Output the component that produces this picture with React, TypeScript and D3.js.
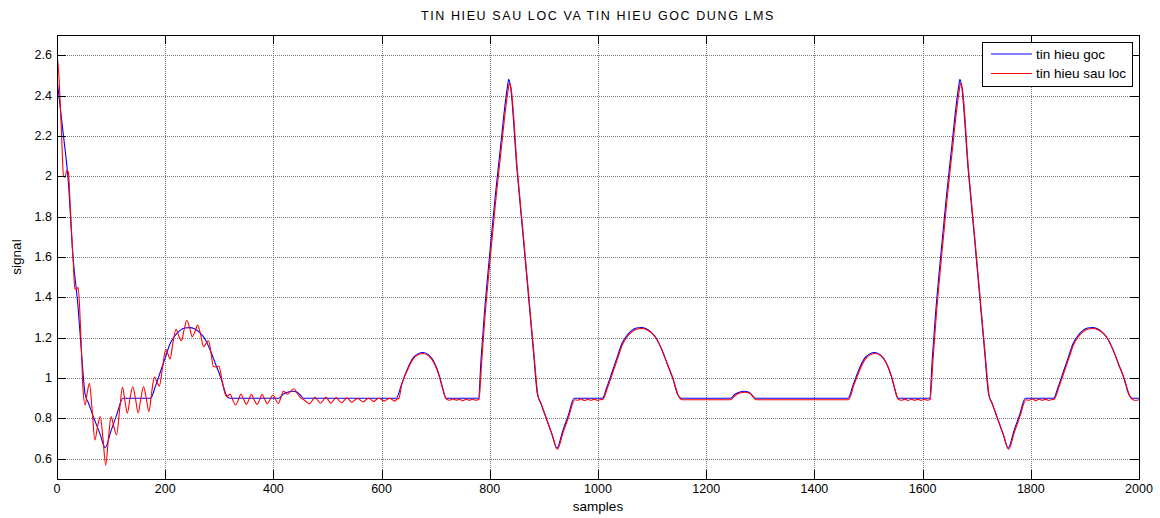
import React, { useRef, useEffect } from 'react';
import * as d3 from 'd3';

// original signal (tin hieu goc): [sample, value]
const originalSignal: [number, number][] = [
  [0, 2.48], [12, 2.2], [21, 1.97], [29, 1.62], [39, 1.35], [46, 1.1], [52, 0.92], [58, 0.878], [67, 0.81], [80, 0.72], [89, 0.655], [100, 0.74], [110, 0.815], [122, 0.9],
  [173, 0.9], [182, 0.96], [191, 1.03], [200, 1.1], [209, 1.17], [218, 1.21], [227, 1.235], [236, 1.248], [245, 1.25], [254, 1.245], [263, 1.228], [272, 1.2], [283, 1.14], [293, 1.07], [303, 1.0], [313, 0.915], [319, 0.9],
  [410, 0.9], [418, 0.92], [426, 0.93], [435, 0.935], [444, 0.93], [450, 0.915], [456, 0.9],
  [627, 0.9], [637, 0.97], [647, 1.04], [657, 1.095], [667, 1.12], [677, 1.127], [687, 1.115], [697, 1.08], [707, 1.01], [713, 0.95], [719, 0.9],
  [779, 0.9], [784, 1.1], [790, 1.32], [800, 1.62], [810, 1.9], [820, 2.15], [828, 2.35], [833, 2.45], [835, 2.48], [838, 2.45], [850, 2.04], [862, 1.69], [873, 1.36], [881, 1.12], [888, 0.92], [894, 0.878], [903, 0.81], [915, 0.72], [924, 0.652], [935, 0.74], [945, 0.815], [956, 0.9],
  [1008, 0.9], [1017, 0.96], [1026, 1.03], [1035, 1.1], [1044, 1.17], [1053, 1.21], [1062, 1.235], [1071, 1.248], [1080, 1.25], [1089, 1.245], [1098, 1.228], [1107, 1.2], [1118, 1.14], [1128, 1.07], [1138, 1.0], [1148, 0.915], [1154, 0.9],
  [1245, 0.9], [1253, 0.92], [1261, 0.93], [1270, 0.935], [1279, 0.93], [1285, 0.915], [1291, 0.9],
  [1462, 0.9], [1472, 0.97], [1482, 1.04], [1492, 1.095], [1502, 1.12], [1512, 1.127], [1522, 1.115], [1532, 1.08], [1542, 1.01], [1548, 0.95], [1554, 0.9],
  [1613, 0.9], [1618, 1.1], [1624, 1.32], [1634, 1.62], [1644, 1.9], [1654, 2.15], [1662, 2.35], [1667, 2.45], [1669, 2.48], [1672, 2.45], [1684, 2.04], [1696, 1.69], [1707, 1.36], [1715, 1.12], [1722, 0.92], [1728, 0.878], [1737, 0.81], [1749, 0.72], [1758, 0.652], [1769, 0.74], [1779, 0.815], [1790, 0.9],
  [1842, 0.9], [1851, 0.96], [1860, 1.03], [1869, 1.1], [1878, 1.17], [1887, 1.21], [1896, 1.235], [1905, 1.248], [1914, 1.25], [1923, 1.245], [1932, 1.228], [1941, 1.2], [1952, 1.14], [1962, 1.07], [1972, 1.0], [1982, 0.915], [1988, 0.9], [2000, 0.9],
];

// filtered signal (tin hieu sau loc)
const filteredSignal: [number, number][] = [
  [0, 2.6], [3, 2.52], [6, 2.36], [9, 2.17], [12, 2.0], [15, 1.995], [18, 2.03], [21, 2.02], [24, 1.88], [27, 1.72], [30, 1.58], [33, 1.44], [36, 1.44], [39, 1.45], [42, 1.34], [45, 1.15], [48, 0.95], [52, 0.867],
  [56, 0.93], [60, 0.974], [65, 0.84], [70, 0.693], [75, 0.76], [80, 0.809], [85, 0.7], [90, 0.569], [95, 0.7], [100, 0.809], [105, 0.76], [110, 0.718], [116, 0.85], [121, 0.954],
  [126, 0.88], [130, 0.826], [135, 0.9], [140, 0.957], [145, 0.9], [150, 0.826], [155, 0.9], [160, 0.957], [165, 0.9], [170, 0.834], [175, 0.93], [180, 1.005], [185, 0.98], [189, 0.96],
  [195, 1.05], [201, 1.143], [205, 1.12], [209, 1.095], [214, 1.17], [220, 1.242], [225, 1.21], [230, 1.185], [235, 1.24], [240, 1.285], [245, 1.25], [250, 1.205], [255, 1.23], [260, 1.263],
  [265, 1.22], [271, 1.156], [275, 1.17], [280, 1.185], [285, 1.12], [289, 1.057], [294, 1.055], [299, 1.06], [305, 0.99], [310, 0.93], [314, 0.908], [317, 0.915], [320, 0.921],
  [325, 0.89], [330, 0.867], [335, 0.89], [340, 0.921], [345, 0.895], [350, 0.87], [355, 0.895], [359, 0.92], [364, 0.895], [370, 0.87], [375, 0.895], [379, 0.92], [384, 0.895],
  [389, 0.873], [394, 0.895], [399, 0.916], [404, 0.895], [409, 0.873], [414, 0.905], [418, 0.935], [422, 0.93], [426, 0.92], [432, 0.935], [438, 0.947], [444, 0.925], [450, 0.903],
  [455, 0.895], [460, 0.885], [467, 0.872], [472, 0.89], [477, 0.905], [482, 0.89], [487, 0.875], [492, 0.89], [497, 0.905], [502, 0.89], [506, 0.876], [511, 0.89], [516, 0.903],
  [521, 0.89], [526, 0.878], [531, 0.89], [536, 0.902], [541, 0.89], [545, 0.88], [550, 0.89], [556, 0.9], [561, 0.89], [566, 0.882], [571, 0.892], [576, 0.9], [581, 0.892],
  [585, 0.884], [590, 0.893], [595, 0.9], [600, 0.893], [605, 0.886], [610, 0.894], [615, 0.9], [620, 0.893], [624, 0.886], [628, 0.895],
  [632, 0.9], [637, 0.965], [647, 1.035], [657, 1.09], [667, 1.115], [677, 1.122], [687, 1.11], [697, 1.075], [707, 1.005], [713, 0.945], [720, 0.895], [726, 0.89], [732, 0.897],
  [738, 0.89], [744, 0.895], [750, 0.888], [756, 0.895], [762, 0.89], [768, 0.895], [774, 0.89], [780, 0.895],
  [785, 1.08], [791, 1.3], [801, 1.6], [811, 1.88], [821, 2.13], [829, 2.33], [834, 2.43], [836, 2.46], [839, 2.44], [851, 2.03], [863, 1.68], [874, 1.35], [882, 1.11], [889, 0.915],
  [895, 0.872], [904, 0.805], [916, 0.715], [925, 0.648], [936, 0.735], [946, 0.81], [957, 0.893], [963, 0.89], [969, 0.897], [975, 0.888], [981, 0.895], [987, 0.89], [993, 0.896],
  [999, 0.889], [1004, 0.893], [1009, 0.895],
  [1018, 0.955], [1027, 1.025], [1036, 1.095], [1045, 1.165], [1054, 1.205], [1063, 1.23], [1072, 1.243], [1081, 1.246], [1090, 1.24], [1099, 1.224], [1108, 1.195], [1119, 1.135],
  [1129, 1.065], [1139, 0.995], [1149, 0.91], [1155, 0.893], [1245, 0.893],
  [1254, 0.915], [1262, 0.926], [1271, 0.93], [1280, 0.925], [1286, 0.91], [1292, 0.893], [1463, 0.893],
  [1473, 0.965], [1483, 1.035], [1493, 1.09], [1503, 1.115], [1513, 1.122], [1523, 1.11], [1533, 1.075], [1543, 1.005], [1549, 0.945], [1555, 0.895], [1561, 0.89], [1567, 0.896],
  [1573, 0.889], [1579, 0.895], [1585, 0.89], [1591, 0.896], [1597, 0.889], [1603, 0.895], [1609, 0.89], [1614, 0.895],
  [1619, 1.08], [1625, 1.3], [1635, 1.6], [1645, 1.88], [1655, 2.13], [1663, 2.33], [1668, 2.43], [1670, 2.46], [1673, 2.44], [1685, 2.03], [1697, 1.68], [1708, 1.35], [1716, 1.11],
  [1723, 0.915], [1729, 0.872], [1738, 0.805], [1750, 0.715], [1759, 0.648], [1770, 0.735], [1780, 0.81], [1791, 0.893], [1797, 0.89], [1803, 0.897], [1809, 0.888], [1815, 0.895],
  [1821, 0.89], [1827, 0.896], [1833, 0.889], [1838, 0.893], [1843, 0.895],
  [1852, 0.955], [1861, 1.025], [1870, 1.095], [1879, 1.165], [1888, 1.205], [1897, 1.23], [1906, 1.243], [1915, 1.246], [1924, 1.24], [1933, 1.224], [1942, 1.195], [1953, 1.135],
  [1963, 1.065], [1973, 0.995], [1983, 0.91], [1989, 0.893], [1994, 0.89], [2000, 0.893],
];

const xTicks = [0, 200, 400, 600, 800, 1000, 1200, 1400, 1600, 1800, 2000];
const yTicks = [0.6, 0.8, 1, 1.2, 1.4, 1.6, 1.8, 2, 2.2, 2.4, 2.6];
const legendLabels = ['tin hieu goc', 'tin hieu sau loc'];
const seriesColors = ['#0000ff', '#ff0000'];

const FONT = 'Liberation Sans, Arial, Helvetica, sans-serif';

const App = () => {
  const ref = useRef<SVGSVGElement>(null);

  useEffect(() => {
    const svg = d3.select(ref.current);
    svg.selectAll('*').remove();

    const width = 1160;
    const height = 518;
    const margin = { top: 35, right: 21, bottom: 39, left: 57 };
    const x0 = margin.left, x1 = width - margin.right;
    const y0 = margin.top, y1 = height - margin.bottom;

    const x = d3.scaleLinear().domain([0, 2000]).range([x0, x1]);
    const y = d3.scaleLinear().domain([0.5, 2.7]).range([y1, y0]);

    svg.append('rect').attr('width', width).attr('height', height).attr('fill', '#fff');

    // grid
    const grid = svg.append('g').attr('stroke', '#7a7a7a').attr('stroke-width', 1).attr('stroke-dasharray', '1,1');
    grid.selectAll('.gx').data(xTicks.slice(1, -1)).join('line')
      .attr('x1', d => Math.round(x(d)) + 0.5).attr('x2', d => Math.round(x(d)) + 0.5).attr('y1', y0).attr('y2', y1);
    grid.selectAll('.gy').data(yTicks).join('line').attr('class', 'gy')
      .attr('y1', d => Math.round(y(d)) + 0.5).attr('y2', d => Math.round(y(d)) + 0.5).attr('x1', x0).attr('x2', x1);

    // lines
    const line = d3.line<[number, number]>().x(d => x(d[0])).y(d => y(d[1])).curve(d3.curveMonotoneX);
    const clip = svg.append('clipPath').attr('id', 'plotclip');
    clip.append('rect').attr('x', x0).attr('y', y0).attr('width', x1 - x0).attr('height', y1 - y0);
    const plot = svg.append('g').attr('clip-path', 'url(#plotclip)');
    [originalSignal, filteredSignal].forEach((s, i) => {
      plot.append('path').datum(s).attr('d', line).attr('fill', 'none')
        .attr('stroke', seriesColors[i]).attr('stroke-width', 1.1);
    });

    // frame and ticks
    const tickLen = 9;
    const ax = svg.append('g').attr('stroke', '#000').attr('stroke-width', 1);
    ax.append('rect').attr('x', x0 + 0.5).attr('y', y0 + 0.5).attr('width', x1 - x0).attr('height', y1 - y0).attr('fill', 'none');
    xTicks.forEach(t => {
      const px = Math.round(x(t)) + 0.5;
      ax.append('line').attr('x1', px).attr('x2', px).attr('y1', y1).attr('y2', y1 - tickLen);
      ax.append('line').attr('x1', px).attr('x2', px).attr('y1', y0).attr('y2', y0 + tickLen);
    });
    yTicks.forEach(t => {
      const py = Math.round(y(t)) + 0.5;
      ax.append('line').attr('y1', py).attr('y2', py).attr('x1', x0).attr('x2', x0 + tickLen);
      ax.append('line').attr('y1', py).attr('y2', py).attr('x1', x1).attr('x2', x1 - tickLen);
    });

    const text = svg.append('g').attr('font-family', FONT).attr('fill', '#000');
    text.selectAll('.xt').data(xTicks).join('text').attr('class', 'xt')
      .attr('x', d => x(d)).attr('y', y1 + 14).attr('text-anchor', 'middle').attr('font-size', 12.5)
      .text(d => String(d));
    text.selectAll('.yt').data(yTicks).join('text').attr('class', 'yt')
      .attr('x', x0 - 5).attr('y', d => y(d) + 4).attr('text-anchor', 'end').attr('font-size', 12.5)
      .text(d => String(+d.toFixed(1)));

    text.append('text').attr('x', (x0 + x1) / 2).attr('y', 20).attr('text-anchor', 'middle').attr('font-size', 12.5)
      .attr('letter-spacing', 1.6)
      .text('TIN HIEU SAU LOC VA TIN HIEU GOC DUNG LMS');
    text.append('text').attr('x', (x0 + x1) / 2).attr('y', 511).attr('text-anchor', 'middle').attr('font-size', 13.5)
      .text('samples');
    text.append('text').attr('transform', `translate(21,${(y0 + y1) / 2}) rotate(-90)`).attr('text-anchor', 'middle').attr('font-size', 13.5)
      .text('signal');

    // legend
    const lg = svg.append('g');
    lg.append('rect').attr('x', 982.5).attr('y', 42.5).attr('width', 150).attr('height', 44)
      .attr('fill', '#fff').attr('stroke', '#000');
    legendLabels.forEach((l, i) => {
      const ly = 54 + i * 19.5;
      lg.append('line').attr('x1', 991).attr('x2', 1032).attr('y1', ly).attr('y2', ly)
        .attr('stroke', seriesColors[i]).attr('stroke-width', 1.1);
      lg.append('text').attr('x', 1036).attr('y', ly + 4.5).attr('font-family', FONT).attr('font-size', 13.5)
        .text(l);
    });
  }, []);

  return <svg ref={ref} width={1160} height={518} style={{ position: 'absolute', left: 0, top: 0 }} />;
};

export default App;
